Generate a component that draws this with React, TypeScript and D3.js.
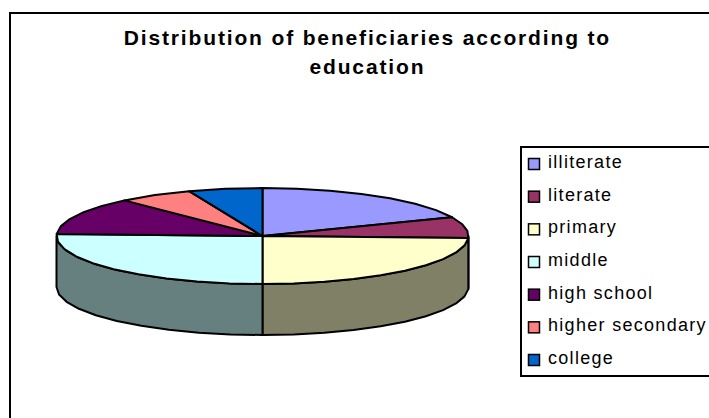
import React from "react";
import * as d3 from "d3";

const categories = ["illiterate", "literate", "primary", "middle", "high school", "higher secondary", "college"];
const values = [18.6, 7.1, 24.3, 25.7, 12.6, 5.9, 5.8];
const topColors = ["#9999ff", "#993366", "#ffffcc", "#ccffff", "#660066", "#ff8080", "#0066cc"];
const titleLines = ["Distribution of beneficiaries according to", "education"];

const cx = 262.5, cy = 236, rx = 206, ry = 48, depth = 51;
const STEP = (2 * Math.PI) / 40;

const proj = (a: number, yo = 0): [number, number] => [cx + rx * Math.sin(a), cy - ry * Math.cos(a) + yo];

function arcPts(a0: number, a1: number, yo = 0) {
  const n = Math.max(1, Math.round((a1 - a0) / STEP));
  return d3.range(n + 1).map((i) => proj(a0 + ((a1 - a0) * i) / n, yo));
}
const toPath = (pts: [number, number][]) => (d3.line()(pts) ?? "") + "Z";

function shade(c: string) {
  const r = d3.rgb(c);
  return d3.rgb(r.r * 0.5, r.g * 0.5, r.b * 0.5).formatHex();
}

export default function App() {
  const arcs = d3.pie<number>().sort(null)(values);
  const legendY = d3.scalePoint<string>().domain(categories).range([163, 359]);

  const sides: { d: string; fill: string }[] = [];
  arcs.forEach((a, i) => {
    const s = Math.max(a.startAngle, Math.PI / 2);
    const e = Math.min(a.endAngle, (3 * Math.PI) / 2);
    if (e <= s) return;
    const front = arcPts(s, e);
    const back = arcPts(s, e, depth).reverse();
    sides.push({ d: toPath([...front, ...back]), fill: shade(topColors[i]) });
  });

  return (
    <svg width={709} height={418} style={{ position: "absolute", left: 0, top: 0, background: "#fff" }} fontFamily="'Liberation Sans', Arial, sans-serif">
      <rect x={10} y={13} width={720} height={420} fill="#fff" stroke="#000" strokeWidth={2} />
      {titleLines.map((t, i) => (
        <text key={t} x={367.4} y={45 + i * 29} textAnchor="middle" fontWeight={700} fontSize={21} letterSpacing={1.85} fill="#000">
          {t}
        </text>
      ))}
      {sides.map((s, i) => (
        <path key={i} d={s.d} fill={s.fill} stroke="#000" strokeWidth={2} strokeLinejoin="round" />
      ))}
      {arcs.map((a, i) => (
        <path
          key={categories[i]}
          d={toPath([[cx, cy], ...arcPts(a.startAngle, a.endAngle)])}
          fill={topColors[i]}
          stroke="#000"
          strokeWidth={2}
          strokeLinejoin="round"
        />
      ))}
      <rect x={521} y={147} width={220} height={229} fill="#fff" stroke="#000" strokeWidth={2} />
      {categories.map((c, i) => (
        <g key={c}>
          <rect x={528.5} y={(legendY(c) as number) - 4.5} width={11} height={11} fill={topColors[i]} stroke="#000" strokeWidth={1.5} />
          <text x={548} y={(legendY(c) as number) + 5} fontSize={18} letterSpacing={1.3} fill="#000">
            {c}
          </text>
        </g>
      ))}
    </svg>
  );
}
